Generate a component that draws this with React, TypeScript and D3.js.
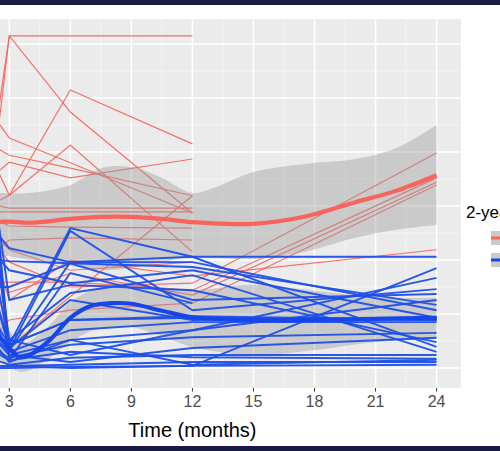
import React from 'react';
import * as d3 from 'd3';

// Visit times (months)
const TIMES = [2, 3, 6, 12, 24];
const X_TICKS = [0, 3, 6, 9, 12, 15, 18, 21, 24];
const X_MINOR = [1.5, 4.5, 7.5, 10.5, 13.5, 16.5, 19.5, 22.5];
const Y_MAJOR = [0, 10, 20, 30, 40, 50, 60];
const Y_MINOR = [5, 15, 25, 35, 45, 55];
const X_TITLE = 'Time (months)';
const LEGEND_TITLE = '2-year outcome';

// Individual trajectories, values at TIMES (null = missed visit)
const RED_PATIENTS: (number | null)[][] = [
  [29.6, 61.5, 61.5, 61.5, null],
  [35.7, 61.5, 47.4, 28.7, null],
  [30.0, 32.0, 51.5, 41.5, null],
  [40.1, 32.0, 41.3, 21.5, null],
  [47.8, 42.6, 38.0, 28.7, null],
  [41.5, 39.4, 37.0, 31.9, null],
  [35.0, 38.1, 35.2, 38.7, null],
  [30.4, 29.6, 29.6, 29.6, null],
  [28.9, 28.9, 28.9, 28.9, null],
  [28.0, 26.3, 26.1, 25.9, null],
  [20.5, 23.7, 24.1, 23.7, null],
  [24.4, 19.6, 15.0, 15.7, 39.8],
  [15.9, 15.9, 15.9, 14.4, 35.2],
  [22.8, 3.9, null, 31.9, null],
  [4.8, 8.9, 10.7, 12.0, 33.9],
  [24.6, 12.6, 20.0, 17.0, 21.9],
  [25.9, 21.9, 18.1, 19.6, null],
  [18.0, 14.0, 17.5, 13.5, 34.4],
];

const BLUE_PATIENTS: (number | null)[][] = [
  [17.2, 4.3, 25.9, 20.6, 20.6],
  [0.4, 0.4, 0.0, 0.4, 18.5],
  [11.3, 2.4, 5.2, 7.0, 16.7],
  [43.5, 3.3, 25.4, 10.7, 14.6],
  [15.0, 15.0, 19.4, 12.6, 13.7],
  [26.7, 22.2, 19.6, 19.6, 10.7],
  [22.2, 18.1, 15.7, 18.1, 9.3],
  [23.5, 4.3, 8.9, 9.3, 8.9],
  [6.5, 3.0, 7.0, 8.5, 8.5],
  [3.9, 1.9, 4.3, 5.7, 6.5],
  [39.6, 12.6, 15.4, 14.4, 4.8],
  [32.8, 3.3, 19.6, 20.6, 3.9],
  [33.3, 5.2, 13.9, 17.2, 3.0],
  [1.9, 0.6, 1.9, 2.4, 2.4],
  [3.5, 1.5, 3.0, 2.0, 1.7],
  [0.4, 0.4, 0.6, 1.1, 1.1],
  [0.0, 0.0, 0.2, 0.4, 0.6],
  [44.6, 1.5, 17.6, 12.0, null],
  [10.4, 4.3, 8.9, 9.6, 8.9],
  [17.0, 3.7, 12.6, 8.9, 9.3],
  [5.9, 1.1, 5.2, 0.6, 1.5],
  [6.5, 2.4, 1.1, 3.7, 5.6],
  [20.2, 19.8, 19.4, 18.7, 11.7],
  [5.2, 5.2, 2.4, 7.0, 12.6],
];

// Smoothed group trends with confidence bands
const RED_FIT_T = [2, 3, 4, 6, 7.5, 9, 10.5, 12, 13, 15, 17.5, 20, 22, 24];
const RED_FIT = [27.0, 27.1, 26.9, 27.6, 28.0, 28.0, 27.6, 27.0, 26.8, 26.7, 28.0, 30.7, 32.8, 35.7];
const RED_UPPER = [32.4, 32.4, 32.4, 33.9, 37.0, 37.2, 35.2, 32.4, 33.3, 36.3, 37.8, 38.7, 40.7, 45.0];
const RED_LOWER = [21.3, 20.7, 20.0, 18.9, 18.1, 18.5, 19.6, 20.6, 20.4, 20.2, 21.5, 24.1, 25.6, 26.5];

const BLUE_FIT_T = [2, 3, 3.5, 4, 5, 6, 7, 8, 9, 10.5, 12, 15, 18, 21, 24];
const BLUE_FIT = [8.0, 3.7, 2.0, 2.4, 5.2, 9.3, 11.5, 12.0, 11.9, 10.6, 9.4, 8.9, 8.9, 9.1, 9.3];
const BLUE_UPPER = [12.6, 7.0, 4.6, 5.0, 8.0, 12.2, 14.3, 15.5, 15.7, 15.0, 14.4, 15.4, 14.3, 13.1, 13.0];
const BLUE_LOWER = [3.3, 0.4, -0.7, -0.4, 1.9, 4.8, 6.8, 7.6, 7.6, 5.9, 3.9, 2.4, 3.3, 4.8, 5.6];

const RED = '#F26A62';
const RED_FIT_COL = '#F8635B';
const BLUE = '#1F4FE6';
const BLUE_FIT_COL = '#1646E8';

export default function App() {
  const W = 500;
  const H = 451;
  const P = { left: 0, right: 461, top: 19, bottom: 388 };
  const x = d3.scaleLinear().domain([3, 24]).range([9.3, 436.6]);
  const y = d3.scaleLinear().domain([0, 60]).range([368, 44]);

  const pline = d3
    .line<[number, number]>()
    .x((d) => x(d[0]))
    .y((d) => y(d[1]));

  const toPts = (vals: (number | null)[]) =>
    TIMES.map((t, i) => [t, vals[i]] as [number, number | null]).filter((d) => d[1] !== null) as [number, number][];

  const smooth = d3
    .line<[number, number]>()
    .x((d) => x(d[0]))
    .y((d) => y(d[1]))
    .curve(d3.curveCatmullRom.alpha(0.5));

  const band = (ts: number[], lo: number[], hi: number[]) =>
    d3
      .area<number>()
      .x((t) => x(t))
      .y0((_, i) => y(lo[i]))
      .y1((_, i) => y(hi[i]))
      .curve(d3.curveCatmullRom.alpha(0.5))(ts) || '';

  const fitPts = (ts: number[], vs: number[]) => ts.map((t, i) => [t, vs[i]] as [number, number]);

  return (
    <svg
      width={W}
      height={H}
      style={{ position: 'absolute', left: 0, top: 0, background: '#fff' }}
      fontFamily="'Liberation Sans', Arial, sans-serif"
    >
      <defs>
        <clipPath id="panel">
          <rect x={P.left} y={P.top} width={P.right - P.left} height={P.bottom - P.top} />
        </clipPath>
      </defs>
      <rect x={0} y={0} width={W} height={H} fill="#fff" />
      <rect x={P.left} y={P.top} width={P.right - P.left} height={P.bottom - P.top} fill="#EBEBEB" />
      <g clipPath="url(#panel)">
        {Y_MINOR.map((v) => (
          <line key={'ym' + v} x1={P.left} x2={P.right} y1={y(v)} y2={y(v)} stroke="#F7F7F7" strokeWidth={0.8} />
        ))}
        {X_MINOR.map((t) => (
          <line key={'xm' + t} x1={x(t)} x2={x(t)} y1={P.top} y2={P.bottom} stroke="#F7F7F7" strokeWidth={0.8} />
        ))}
        {Y_MAJOR.map((v) => (
          <line key={'yM' + v} x1={P.left} x2={P.right} y1={y(v)} y2={y(v)} stroke="#fff" strokeWidth={1.6} />
        ))}
        {X_TICKS.map((t) => (
          <line key={'xM' + t} x1={x(t)} x2={x(t)} y1={P.top} y2={P.bottom} stroke="#fff" strokeWidth={1.6} />
        ))}

        {RED_PATIENTS.map((p, i) => (
          <path key={'r' + i} d={pline(toPts(p)) || ''} fill="none" stroke={RED} strokeWidth={1.2} strokeOpacity={0.95} />
        ))}

        <path d={band(RED_FIT_T, RED_LOWER, RED_UPPER)} fill="#999999" fillOpacity={0.4} />
        <path d={band(BLUE_FIT_T, BLUE_LOWER, BLUE_UPPER)} fill="#999999" fillOpacity={0.4} />

        {BLUE_PATIENTS.map((p, i) => (
          <path key={'b' + i} d={pline(toPts(p)) || ''} fill="none" stroke={BLUE} strokeWidth={1.9} strokeOpacity={0.95} />
        ))}

        <path d={smooth(fitPts(RED_FIT_T, RED_FIT)) || ''} fill="none" stroke={RED_FIT_COL} strokeWidth={4.2} />
        <path d={smooth(fitPts(BLUE_FIT_T, BLUE_FIT)) || ''} fill="none" stroke={BLUE_FIT_COL} strokeWidth={4.2} />
      </g>

      {X_TICKS.filter((t) => x(t) >= P.left && x(t) <= P.right).map((t) => (
        <g key={'tk' + t}>
          <line x1={x(t)} x2={x(t)} y1={P.bottom} y2={P.bottom + 3.5} stroke="#333" strokeWidth={1} />
          <text x={x(t)} y={407} textAnchor="middle" fontSize={16} fill="#4D4D4D">
            {t}
          </text>
        </g>
      ))}
      <text x={(P.right + x(-1.2)) / 2} y={437} textAnchor="middle" fontSize={20} fill="#000">
        {X_TITLE}
      </text>

      <text x={466} y={218} fontSize={17} fill="#000">
        {LEGEND_TITLE}
      </text>
      <rect x={491} y={231} width={20} height={14} fill="#CACACA" />
      <line x1={491} x2={511} y1={238} y2={238} stroke={RED_FIT_COL} strokeWidth={3} />
      <rect x={491} y={253} width={20} height={14} fill="#CACACA" />
      <line x1={491} x2={511} y1={260} y2={260} stroke={BLUE_FIT_COL} strokeWidth={3} />

      <rect x={0} y={0} width={W} height={5} fill="#1B1A44" />
      <rect x={0} y={446} width={W} height={5} fill="#1B1A44" />
    </svg>
  );
}
